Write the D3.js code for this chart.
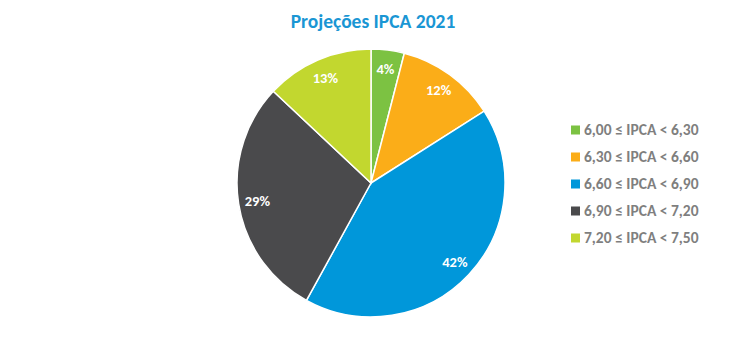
<!DOCTYPE html>
<html><head><meta charset="utf-8">
<script src="https://cdn.jsdelivr.net/npm/d3@7"></script>
<style>body{margin:0;background:#fff}svg{display:block}</style>
</head><body>
<svg id="c" width="750" height="355"></svg>
<script>
const categories = ["6,00 ≤ IPCA < 6,30","6,30 ≤ IPCA < 6,60","6,60 ≤ IPCA < 6,90","6,90 ≤ IPCA < 7,20","7,20 ≤ IPCA < 7,50"];
const values = [4, 12, 42, 29, 13];
const labels = ["4%","12%","42%","29%","13%"];
const colors = ["#7cc242","#fbad18","#0097da","#4a4a4c","#c2d72f"];
const title = "Projeções IPCA 2021";

const font = "Carlito, Calibri, Lato, 'Open Sans', sans-serif";
const svg = d3.select("#c");
svg.append("text").attr("x",373).attr("y",28).attr("text-anchor","middle")
  .attr("font-family",font).attr("font-weight","bold").attr("font-size",19.5)
  .attr("fill","#1a96d4").text(title);

const cx=371, cy=183, r=134;
const pie = d3.pie().sort(null).value(d=>d)(values);
const arc = d3.arc().innerRadius(0).outerRadius(r);
const labelArc = d3.arc().innerRadius(115).outerRadius(115);
const g = svg.append("g").attr("transform",`translate(${cx},${cy})`);
g.selectAll("path").data(pie).join("path").attr("d",arc)
  .attr("fill",(d,i)=>colors[i]).attr("stroke","#fff").attr("stroke-width",1.5);
g.selectAll("text").data(pie).join("text")
  .attr("transform",d=>`translate(${labelArc.centroid(d)})`)
  .attr("text-anchor","middle").attr("dy","0.35em")
  .attr("font-family",font).attr("font-weight","bold").attr("font-size",14.5)
  .attr("fill","#fff").text((d,i)=>labels[i]);

const y = d3.scalePoint().domain(categories).range([130,238]);
const lg = svg.append("g");
categories.forEach((c,i)=>{
  lg.append("rect").attr("x",571).attr("y",y(c)-4.5).attr("width",9).attr("height",9).attr("fill",colors[i]);
  lg.append("text").attr("x",584).attr("y",y(c)).attr("dy","0.35em")
    .attr("font-family",font).attr("font-weight","bold").attr("font-size",15.5)
    .attr("fill","#7f7f7f").text(c);
});
</script>
</body></html>
